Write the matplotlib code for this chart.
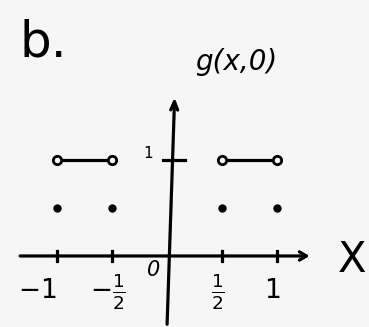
import matplotlib
matplotlib.use("Agg")
import matplotlib.pyplot as plt

# g(x, 0): value 1 on the open intervals, 1/2 at the end points
seg_start = [-1.0, 0.5]
seg_end = [-0.5, 1.0]
seg_level = 1.0
dot_x = [-1.0, -0.5, 0.5, 1.0]
dot_level = 0.5
tick_x = [-1.0, -0.5, 0.5, 1.0]
tick_labels = [r"$-1$", r"$-\frac{1}{2}$", r"$\frac{1}{2}$", r"$1$"]

ink = "black"
paper = "#f6f6f6"
fig = plt.figure(figsize=(3.69, 3.27), dpi=100, facecolor=paper)
ax = fig.add_axes([0, 0, 1, 1])
ax.set_xlim(-1.518, 1.836)
ax.set_ylim(-0.74, 2.667)
ax.axis("off")

# x axis with arrow
ax.annotate("", xy=(1.32, 0.0), xytext=(-1.36, 0.0),
            arrowprops=dict(arrowstyle="->,head_length=0.5,head_width=0.3",
                            lw=2.3, color=ink))
# y axis with arrow (slightly leaning, as drawn)
ax.annotate("", xy=(0.07, 1.68), xytext=(0.0, -0.74),
            arrowprops=dict(arrowstyle="->,head_length=0.6,head_width=0.25",
                            lw=2.3, color=ink))

# ticks on x axis
for xt, lab in zip(tick_x, tick_labels):
    ax.plot([xt, xt], [-0.05, 0.05], color=ink, lw=2.3)
    shift = -0.18 if xt == -1.0 else -0.04
    ax.text(xt + shift, -0.37, lab, fontsize=19, ha="center", va="center", color=ink)
ax.text(-0.12, -0.15, "0", fontsize=15, ha="center", va="center",
        color=ink, style="italic")

# tick at y = 1
ax.plot([-0.04, 0.16], [seg_level, seg_level], color=ink, lw=2.3)
ax.text(-0.17, 1.07, "1", fontsize=11, ha="center", va="center", color=ink)

# segments at level 1 with open ends
for a, b in zip(seg_start, seg_end):
    ax.plot([a, b], [seg_level, seg_level], color=ink, lw=2.3)
    ax.plot([a, b], [seg_level, seg_level], ls="none", marker="o", ms=6,
            mfc=paper, mec=ink, mew=2)

# end point values 1/2
ax.plot(dot_x, [dot_level] * len(dot_x), ls="none", marker="o", ms=5, color=ink)

# labels
ax.text(-1.12, 2.22, "b.", fontsize=36, ha="center", va="center", color=ink)
ax.text(0.63, 2.02, "g(x,0)", fontsize=20, ha="center", va="center",
        color=ink, style="italic")
ax.text(1.68, -0.04, "X", fontsize=30, ha="center", va="center", color=ink)

fig.savefig("out.png", dpi=100, facecolor=fig.get_facecolor())
